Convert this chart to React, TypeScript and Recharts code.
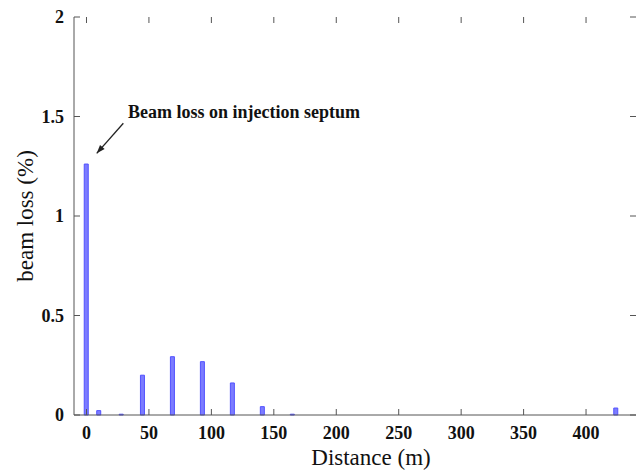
import React from "react";
import {
  BarChart,
  Bar,
  XAxis,
  YAxis,
  ReferenceLine,
  ReferenceDot,
} from "recharts";

// ================= Data =================
const distances = [0, 10, 28, 45, 69, 93, 117, 141, 165, 424];
const lossValues = [1.261, 0.022, 0.004, 0.2, 0.293, 0.268, 0.161, 0.042, 0.004, 0.035];

const xTicks = [0, 50, 100, 150, 200, 250, 300, 350, 400];
const yTicks = [0, 0.5, 1, 1.5, 2];

// annotation: text anchor and arrow (data coordinates)
const noteText = "Beam loss on injection septum";
const notePos = { x: 33.2, y: 1.492 };
const arrowFrom = { x: 29.5, y: 1.466 };
const arrowTo = { x: 8.2, y: 1.315 };

const data = distances.map((d, i) => ({ x: d, loss: lossValues[i] }));

// ================= Layout =================
const W = 638;
const H = 471;
const PLOT = { left: 74, right: 636, top: 17, bottom: 415 };
const FONT = '"Liberation Serif", "Times New Roman", serif';
const FRAME = "#555";
const TICK_LEN = 6;

const XTick = (props: any) => {
  const { x, payload } = props;
  return (
    <g>
      <line x1={x} x2={x} y1={PLOT.bottom} y2={PLOT.bottom - TICK_LEN} stroke={FRAME} />
      <line x1={x} x2={x} y1={PLOT.top} y2={PLOT.top + TICK_LEN} stroke={FRAME} />
      <text
        x={x}
        y={PLOT.bottom + 24}
        textAnchor="middle"
        fontFamily={FONT}
        fontWeight="bold"
        fontSize={18}
        fill="#111"
      >
        {payload.value}
      </text>
    </g>
  );
};

const YTick = (props: any) => {
  const { y, payload } = props;
  return (
    <g>
      <line x1={PLOT.left} x2={PLOT.left + TICK_LEN} y1={y} y2={y} stroke={FRAME} />
      <line x1={PLOT.right} x2={PLOT.right - TICK_LEN} y1={y} y2={y} stroke={FRAME} />
      <text
        x={PLOT.left - 10}
        y={y + 6}
        textAnchor="end"
        fontFamily={FONT}
        fontWeight="bold"
        fontSize={18}
        fill="#111"
      >
        {payload.value}
      </text>
    </g>
  );
};

const Arrow = (props: any) => {
  const { x1, y1, x2, y2 } = props;
  const ang = Math.atan2(y2 - y1, x2 - x1);
  const len = 9;
  const spread = 0.35;
  const ax = x2 - len * Math.cos(ang - spread);
  const ay = y2 - len * Math.sin(ang - spread);
  const bx = x2 - len * Math.cos(ang + spread);
  const by = y2 - len * Math.sin(ang + spread);
  return (
    <g>
      <line x1={x1} y1={y1} x2={x2} y2={y2} stroke="#222" strokeWidth={1.3} />
      <polygon points={`${x2},${y2} ${ax},${ay} ${bx},${by}`} fill="#222" />
    </g>
  );
};

const NoteText = (props: any) => (
  <text
    x={props.cx}
    y={props.cy}
    fontFamily={FONT}
    fontWeight="bold"
    fontSize={18}
    fill="#111"
  >
    {noteText}
  </text>
);

const App = () => {
  return (
    <div style={{ position: "absolute", left: 0, top: 0, width: W, height: H, background: "#fff" }}>
      <BarChart
        width={W}
        height={H}
        data={data}
        margin={{ top: PLOT.top, right: W - PLOT.right, bottom: H - PLOT.bottom - 30, left: PLOT.left - 60 }}
        barSize={4}
      >
        <XAxis
          dataKey="x"
          type="number"
          domain={[-10, 440]}
          ticks={xTicks}
          allowDataOverflow
          height={30}
          tickLine={false}
          axisLine={{ stroke: FRAME }}
          tick={<XTick />}
          interval={0}
          label={{
            content: (p: any) => {
              const vb = p.viewBox;
              return (
                <text
                  x={vb.x + vb.width / 2 + 16}
                  y={vb.y + 50}
                  textAnchor="middle"
                  fontFamily={FONT}
                  fontSize={23}
                  fill="#111"
                >
                  Distance (m)
                </text>
              );
            },
          }}
        />
        <XAxis
          xAxisId="top"
          orientation="top"
          type="number"
          domain={[-10, 440]}
          height={0}
          tick={false}
          tickLine={false}
          axisLine={{ stroke: FRAME }}
        />
        <YAxis
          type="number"
          domain={[0, 2]}
          ticks={yTicks}
          width={60}
          tickLine={false}
          axisLine={{ stroke: FRAME }}
          tick={<YTick />}
          interval={0}
          label={{
            content: () => (
              <text
                x={33}
                y={(PLOT.top + PLOT.bottom) / 2}
                transform={`rotate(-90, 33, ${(PLOT.top + PLOT.bottom) / 2})`}
                textAnchor="middle"
                fontFamily={FONT}
                fontSize={23}
                fill="#111"
              >
                beam loss (%)
              </text>
            ),
          }}
        />
        <YAxis
          yAxisId="right"
          orientation="right"
          type="number"
          domain={[0, 2]}
          width={0}
          tick={false}
          tickLine={false}
          axisLine={{ stroke: FRAME }}
        />
        <Bar
          dataKey="loss"
          fill="#7c7cff"
          stroke="#5252ff"
          strokeWidth={1}
          isAnimationActive={false}
        />
        <ReferenceLine
          segment={[arrowFrom, arrowTo]}
          shape={<Arrow />}
          ifOverflow="visible"
        />
        <ReferenceDot x={notePos.x} y={notePos.y} r={0} shape={<NoteText />} ifOverflow="visible" />
      </BarChart>
    </div>
  );
};

export default App;
